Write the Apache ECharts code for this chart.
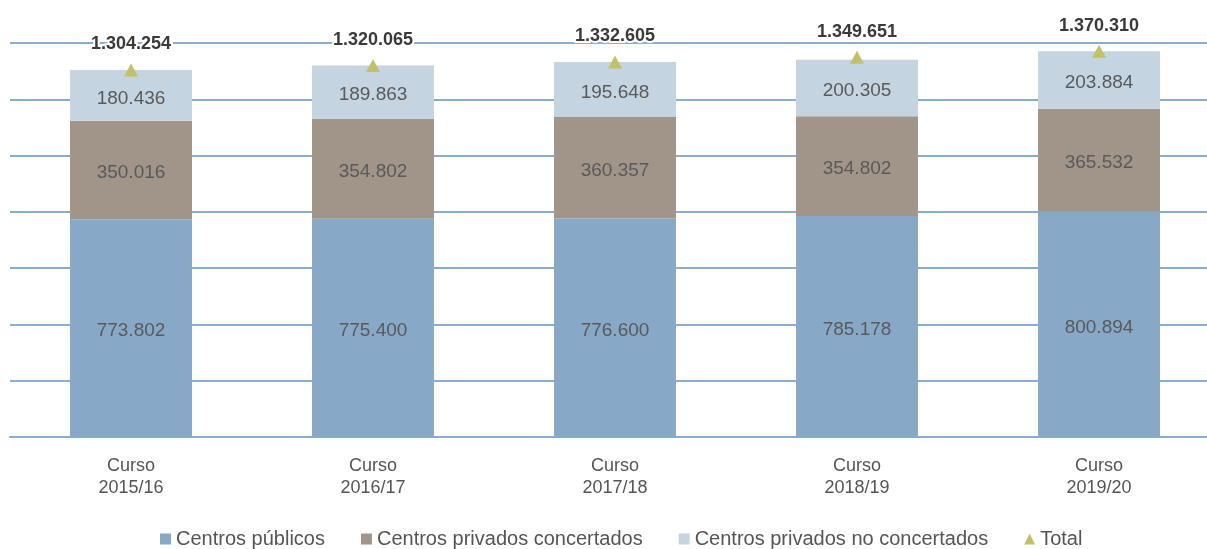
<!DOCTYPE html>
<html>
<head>
<meta charset="utf-8">
<script src="https://cdn.jsdelivr.net/npm/echarts@6/dist/echarts.min.js"></script>
<style>
  html, body { margin: 0; padding: 0; background: #fff; }
  #chart { width: 1207px; height: 549px; }
</style>
</head>
<body>
<div id="chart"></div>
<script>
var cursos = ['Curso\n2015/16', 'Curso\n2016/17', 'Curso\n2017/18', 'Curso\n2018/19', 'Curso\n2019/20']
var publicos = [773802, 775400, 776600, 785178, 800894]
var concertados = [350016, 354802, 360357, 354802, 365532]
var noConcertados = [180436, 189863, 195648, 200305, 203884]
var totales = [1304254, 1320065, 1332605, 1349651, 1370310]

var font = '"Liberation Sans", Arial, sans-serif'

// 773802 -> "773.802"
function fmt(v) {
  return String(v).replace(/\B(?=(\d{3})+(?!\d))/g, '.')
}

function barSerie(name, data, color) {
  return {
    name: name,
    type: 'bar',
    stack: 'alumnos',
    barWidth: 122,
    itemStyle: { color: color },
    label: {
      show: true,
      position: 'inside',
      offset: [0, 3],
      color: '#5a5a5a',
      fontFamily: font,
      fontSize: 19,
      formatter: function (p) { return fmt(p.value) }
    },
    data: data
  }
}

var chart = echarts.init(document.getElementById('chart'))
chart.setOption({
  animation: false,
  backgroundColor: '#fff',
  grid: {
    left: 10,
    top: 43,
    width: 1210,
    bottom: 112,
    outerBoundsMode: 'none'
  },
  legend: {
    top: 524,
    left: 155,
    itemWidth: 11,
    itemHeight: 11,
    itemGap: 36,
    textStyle: { color: '#555', fontSize: 20, fontFamily: font },
    data: [
      { name: 'Centros públicos', icon: 'rect' },
      { name: 'Centros privados concertados', icon: 'rect' },
      { name: 'Centros privados no concertados', icon: 'rect' },
      { name: 'Total', icon: 'triangle' }
    ]
  },
  xAxis: {
    type: 'category',
    data: cursos,
    axisTick: { show: false },
    axisLine: { lineStyle: { color: '#8aaed0', width: 2 } },
    axisLabel: {
      color: '#555',
      fontFamily: font,
      fontSize: 18,
      lineHeight: 22,
      margin: 18
    }
  },
  yAxis: {
    type: 'value',
    min: 0,
    max: 1400000,
    interval: 200000,
    axisLabel: { show: false },
    axisLine: { show: false },
    axisTick: { show: false },
    splitLine: { lineStyle: { color: '#8aaed0', width: 2 } }
  },
  series: [
    barSerie('Centros públicos', publicos, '#87a8c7'),
    barSerie('Centros privados concertados', concertados, '#a19589'),
    barSerie('Centros privados no concertados', noConcertados, '#c4d4e1'),
    {
      name: 'Total',
      type: 'line',
      data: totales,
      symbol: 'triangle',
      symbolSize: [14, 13],
      itemStyle: { color: '#c3c06a' },
      lineStyle: { opacity: 0 },
      label: {
        show: true,
        position: 'top',
        distance: 10,
        color: '#3a3a3a',
        fontWeight: 'bold',
        fontFamily: font,
        fontSize: 18,
        textBorderColor: '#fff',
        textBorderWidth: 4,
        formatter: function (p) { return fmt(p.value) }
      },
      z: 5
    }
  ]
})
</script>
</body>
</html>
